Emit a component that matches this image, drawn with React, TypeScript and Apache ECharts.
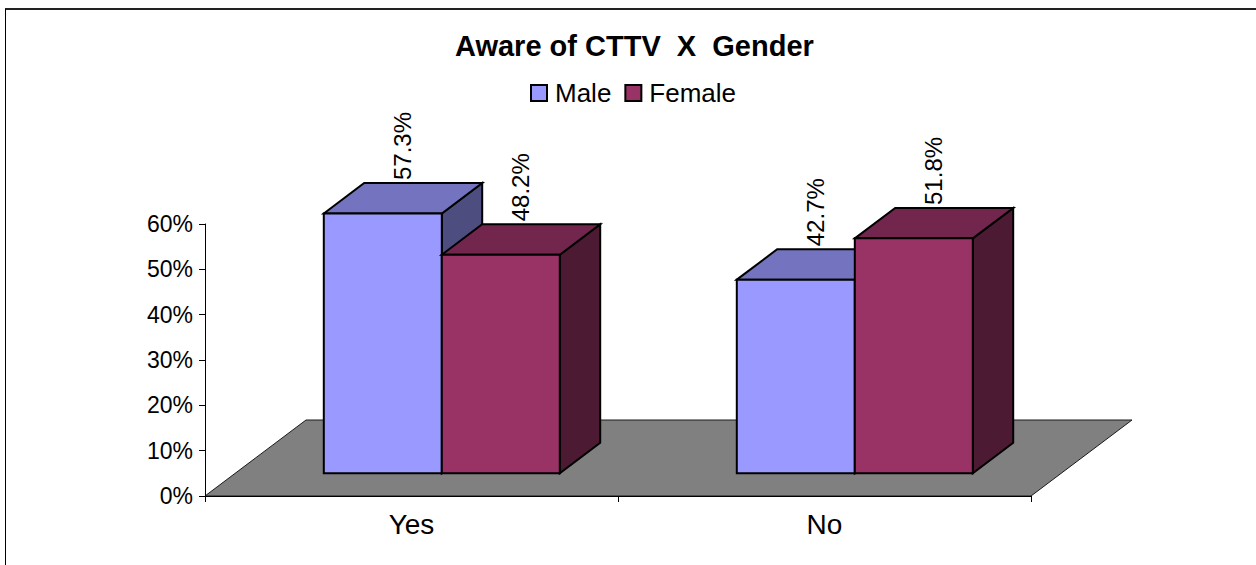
import React, { useEffect, useRef } from "react";
import * as echarts from "echarts";

const categories = ["Yes", "No"];
const maleValues = [0.573, 0.427];
const femaleValues = [0.482, 0.518];
const seriesNames = ["Male", "Female"];
const yTicks = { min: 0, max: 0.6, interval: 0.1 };

const FONT = "'Liberation Sans', Arial, sans-serif";
// oblique projection vector for the full floor depth
const DEPTH = [101, -76];
const FRONT = 0.3;
const BACK = 0.7;

const palettes = [
  { front: "#9999FF", top: "#7373BF", side: "#4D4D80" },
  { front: "#993366", top: "#73264D", side: "#4D1A33" },
];

function makeBarRender(si: number) {
  const pal = palettes[si];
  return (params: any, api: any) => {
    const cat = api.value(0);
    const val = api.value(1);
    const c = api.coord([cat, val]);
    const b = api.coord([cat, 0]);
    const band = api.size([1, 0])[0];
    const w = (band * 2) / 7;
    const x0 = si === 0 ? c[0] - w : c[0];
    const x1 = x0 + w;
    const fx = DEPTH[0] * FRONT;
    const fy = DEPTH[1] * FRONT;
    const dx = DEPTH[0] * (BACK - FRONT);
    const dy = DEPTH[1] * (BACK - FRONT);
    const L = x0 + fx;
    const R = x1 + fx;
    const T = c[1] + fy;
    const B = b[1] + fy;
    const stroke = { stroke: "#000", lineWidth: 2, lineJoin: "miter" };
    return {
      type: "group",
      children: [
        {
          type: "polygon",
          shape: { points: [[R, T], [R + dx, T + dy], [R + dx, B + dy], [R, B]] },
          style: { fill: pal.side, ...stroke },
        },
        {
          type: "polygon",
          shape: { points: [[L, T], [L + dx, T + dy], [R + dx, T + dy], [R, T]] },
          style: { fill: pal.top, ...stroke },
        },
        {
          type: "polygon",
          shape: { points: [[L, T], [R, T], [R, B], [L, B]] },
          style: { fill: pal.front, ...stroke },
        },
        {
          type: "text",
          x: (L + R) / 2 + dx / 2 - 1,
          y: T + dy - 3,
          rotation: Math.PI / 2,
          style: {
            text: (val * 100).toFixed(1) + "%",
            font: `24px ${FONT}`,
            fill: "#000",
            align: "left",
            verticalAlign: "middle",
          },
        },
      ],
    };
  };
}

function floorRender(params: any, api: any) {
  const cs = params.coordSys;
  const x0 = cs.x;
  const x1 = cs.x + cs.width;
  const y = cs.y + cs.height;
  return {
    type: "polygon",
    shape: {
      points: [
        [x0, y],
        [x1, y],
        [x1 + DEPTH[0], y + DEPTH[1]],
        [x0 + DEPTH[0], y + DEPTH[1]],
      ],
    },
    style: { fill: "#808080", stroke: "#1a1a1a", lineWidth: 1 },
  };
}

export default function App() {
  const ref = useRef<HTMLDivElement>(null);
  useEffect(() => {
    if (!ref.current) return;
    const chart = echarts.init(ref.current, null, { renderer: "svg" });
    chart.setOption({
      animation: false,
      backgroundColor: "#fff",
      title: {
        text: "Aware of CTTV  X  Gender",
        left: 450,
        top: 26,
        textStyle: { fontFamily: FONT, fontSize: 29, fontWeight: "bold", color: "#000" },
      },
      legend: {
        data: seriesNames,
        left: 525,
        top: 75,
        icon: "rect",
        itemWidth: 16,
        itemHeight: 16,
        itemGap: 13,
        itemStyle: { borderColor: "#000", borderWidth: 2 },
        textStyle: { fontFamily: FONT, fontSize: 26, color: "#000", padding: [0, 0, 0, 3] },
      },
      grid: { left: 205, right: 225, top: 224, bottom: 69, containLabel: false },
      xAxis: {
        type: "category",
        data: categories,
        z: 5,
        axisLine: { lineStyle: { color: "#000", width: 1 } },
        axisTick: { show: true, length: 6, lineStyle: { color: "#000" } },
        axisLabel: { fontFamily: FONT, fontSize: 28, color: "#000", margin: 14 },
        splitLine: { show: false },
      },
      yAxis: {
        type: "value",
        min: yTicks.min,
        max: yTicks.max,
        interval: yTicks.interval,
        z: 5,
        axisLine: { show: true, lineStyle: { color: "#000", width: 1 } },
        axisTick: { show: true, length: 6, lineStyle: { color: "#000" } },
        axisLabel: {
          fontFamily: FONT,
          fontSize: 23,
          color: "#000",
          margin: 12,
          formatter: (v: number) => Math.round(v * 100) + "%",
        },
        splitLine: { show: false },
      },
      graphic: [
        { type: "line", shape: { x1: 5, y1: 9, x2: 1256, y2: 9 }, style: { stroke: "#222", lineWidth: 2 } },
        { type: "line", shape: { x1: 5.5, y1: 9, x2: 5.5, y2: 565 }, style: { stroke: "#000", lineWidth: 1 } },
      ],
      series: [
        {
          type: "custom",
          name: "floor",
          z: 1,
          silent: true,
          renderItem: floorRender,
          data: [[0, 0]],
          encode: { x: 0, y: 1 },
        },
        {
          type: "custom",
          name: seriesNames[0],
          z: 2,
          itemStyle: { color: palettes[0].front },
          renderItem: makeBarRender(0),
          data: categories.map((_, i) => [i, maleValues[i]]),
          encode: { x: 0, y: 1 },
        },
        {
          type: "custom",
          name: seriesNames[1],
          z: 2,
          itemStyle: { color: palettes[1].front },
          renderItem: makeBarRender(1),
          data: categories.map((_, i) => [i, femaleValues[i]]),
          encode: { x: 0, y: 1 },
        },
      ],
    });
    return () => chart.dispose();
  }, []);
  return (
    <div
      ref={ref}
      style={{ position: "fixed", left: 0, top: 0, width: 1256, height: 565, background: "#fff" }}
    />
  );
}
